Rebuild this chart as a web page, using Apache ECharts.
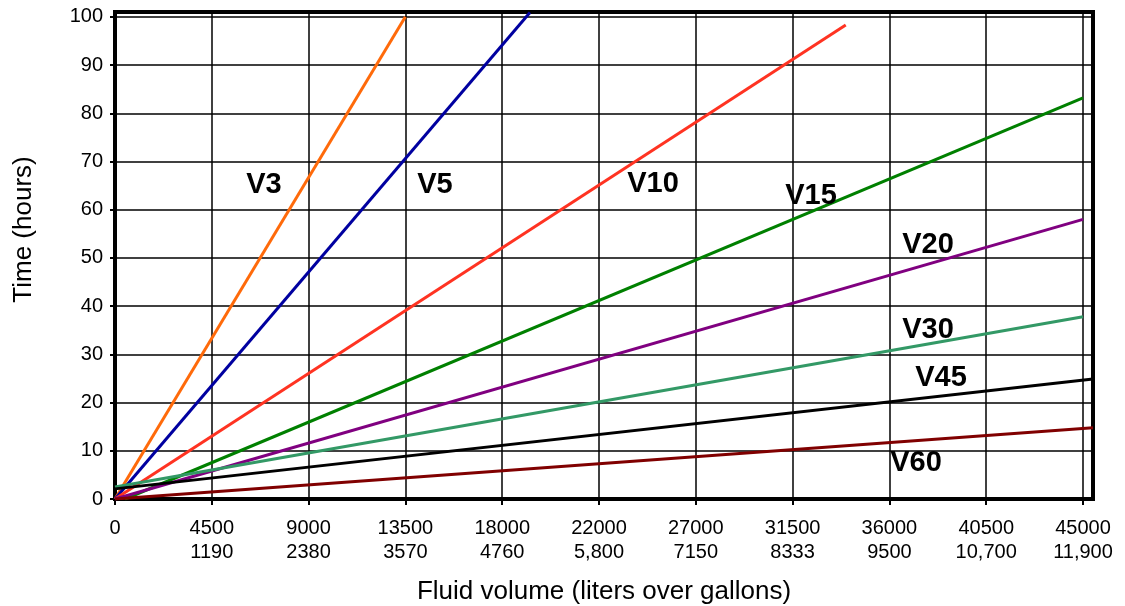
<!DOCTYPE html>
<html>
<head>
<meta charset="utf-8">
<script src="https://cdn.jsdelivr.net/npm/echarts@6/dist/echarts.min.js"></script>
<style>
    html, body { margin: 0; padding: 0; background: #fff; }
    #chart { width: 1125px; height: 606px; }
</style>
</head>
<body>
<div id="chart"></div>
<script>
    // tick labels (liters / gallons) for every 4500 step
    var litersLabels = ['0', '4500', '9000', '13500', '18000', '22000', '27000', '31500', '36000', '40500', '45000'];
    var gallonsLabels = ['', '1190', '2380', '3570', '4760', '5,800', '7150', '8333', '9500', '10,700', '11,900'];

    // each line: [liters, hours] end points
    var v3 = [[0, 0], [13500, 100]];
    var v5 = [[0, 0], [19290, 100.9]];
    var v10 = [[0, 0], [33970, 98.3]];
    var v15 = [[465, 0], [45000, 83.2]];
    var v20 = [[0, 0], [45000, 58]];
    var v30 = [[0, 2.5], [45000, 37.8]];
    var v45 = [[0, 2.1], [45465, 24.9]];
    var v60 = [[0, 0], [45465, 14.8]];

    var chart = echarts.init(document.getElementById('chart'));

    function line(name, data, color) {
        return {
            name: name,
            type: 'line',
            data: data,
            showSymbol: false,
            symbol: 'none',
            lineStyle: {color: color, width: 3},
            z: 3
        };
    }

    function tag(text, x, y) {
        return {
            type: 'text',
            x: x,
            y: y,
            z: 10,
            style: {
                text: text,
                fill: '#000',
                font: 'bold 29px "Liberation Sans", Arial, sans-serif',
                textAlign: 'center',
                textVerticalAlign: 'middle'
            }
        };
    }

    var option = {
        animation: false,
        backgroundColor: '#fff',
        textStyle: {fontFamily: '"Liberation Sans", Arial, sans-serif', color: '#000'},
        grid: {
            left: 115,
            right: 32,
            top: 12,
            bottom: 107,
            outerBoundsMode: 'none',
            containLabel: false,
            show: true,
            borderColor: '#000',
            borderWidth: 4,
            backgroundColor: '#fff'
        },
        xAxis: {
            type: 'value',
            min: 0,
            max: 45465,
            interval: 4500,
            name: 'Fluid volume (liters over gallons)',
            nameLocation: 'middle',
            nameGap: 80,
            nameTextStyle: {fontSize: 26, color: '#000'},
            axisLine: {show: true, lineStyle: {color: '#000', width: 4}},
            axisTick: {show: true, length: 6, lineStyle: {color: '#000', width: 2}},
            axisLabel: {
                showMaxLabel: false,
                margin: 17,
                fontSize: 20,
                lineHeight: 24,
                color: '#000',
                formatter: function (val) {
                    var i = Math.round(val / 4500);
                    if (Math.abs(val - i * 4500) > 1) return '';
                    return gallonsLabels[i] ? litersLabels[i] + '\n' + gallonsLabels[i] : litersLabels[i];
                }
            },
            splitLine: {show: true, lineStyle: {color: '#000', width: 1.5}}
        },
        yAxis: {
            type: 'value',
            min: 0,
            max: 101,
            interval: 10,
            name: 'Time (hours)',
            nameLocation: 'middle',
            nameGap: 78,
            nameTextStyle: {fontSize: 26, color: '#000', padding: [0, 0, 0, 52]},
            axisLine: {show: true, lineStyle: {color: '#000', width: 4}},
            axisTick: {show: true, length: 5, lineStyle: {color: '#000', width: 2}},
            axisLabel: {showMaxLabel: false, margin: 12, fontSize: 20, color: '#000'},
            splitLine: {show: true, lineStyle: {color: '#000', width: 1.5}}
        },
        series: [
            line('V3', v3, '#ff6a0a'),
            line('V5', v5, '#0000a0'),
            line('V10', v10, '#ff3322'),
            line('V15', v15, '#008000'),
            line('V20', v20, '#800080'),
            line('V30', v30, '#339966'),
            line('V45', v45, '#000000'),
            line('V60', v60, '#800000')
        ],
        graphic: [
            tag('V3', 264, 185),
            tag('V5', 435, 185),
            tag('V10', 653, 184),
            tag('V15', 811, 196),
            tag('V20', 928, 245),
            tag('V30', 928, 330),
            tag('V45', 941, 378),
            tag('V60', 916, 463)
        ]
    };

    chart.setOption(option);
</script>
</body>
</html>
